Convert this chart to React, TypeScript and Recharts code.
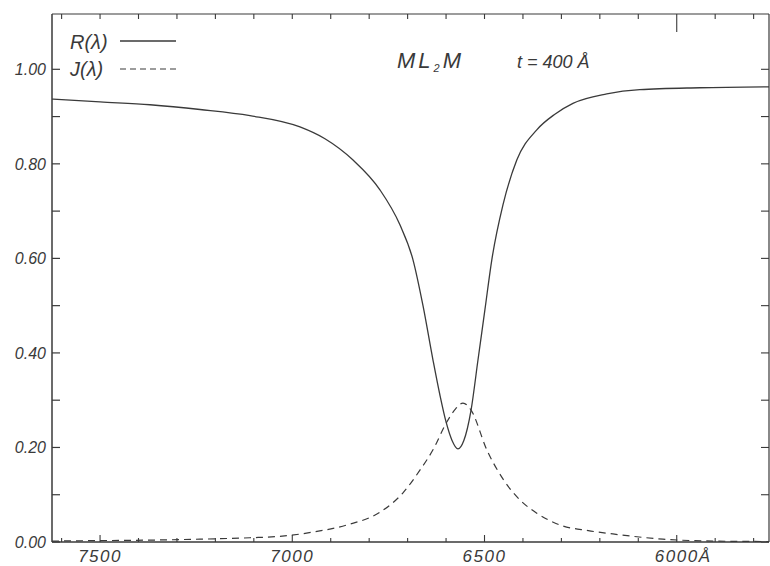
import { LineChart, Line, XAxis, YAxis } from "recharts";

// R(lambda), reflectance
const rLambda = [7625, 7500, 7370, 7240, 7110, 6980, 6915, 6842, 6772, 6720, 6686, 6660, 6634, 6616, 6600, 6585, 6569, 6554, 6535, 6517, 6499, 6481, 6452, 6416, 6364, 6317, 6270, 6182, 6096, 5940, 5760];
const rValue = [0.937, 0.931, 0.925, 0.915, 0.902, 0.878, 0.853, 0.808, 0.745, 0.671, 0.597, 0.5, 0.385, 0.311, 0.254, 0.216, 0.197, 0.214, 0.279, 0.385, 0.491, 0.597, 0.713, 0.808, 0.872, 0.905, 0.928, 0.948, 0.957, 0.961, 0.963];

// J(lambda), dashed curve
const jLambda = [7625, 7500, 7370, 7240, 7110, 7032, 6946, 6858, 6772, 6712, 6668, 6634, 6598, 6577, 6556, 6535, 6494, 6450, 6408, 6364, 6304, 6230, 6166, 6036, 5906, 5760];
const jValue = [0.002, 0.003, 0.004, 0.006, 0.009, 0.012, 0.021, 0.036, 0.063, 0.104, 0.152, 0.195, 0.254, 0.28, 0.294, 0.279, 0.195, 0.131, 0.089, 0.061, 0.036, 0.024, 0.017, 0.006, 0.002, 0.001];

const yTicks = [0, 0.1, 0.2, 0.3, 0.4, 0.5, 0.6, 0.7, 0.8, 0.9, 1.0];
const xTicks = [5800, 5900, 6000, 6100, 6200, 6300, 6400, 6500, 6600, 6700, 6800, 6900, 7000, 7100, 7200, 7300, 7400, 7500, 7600];
const xLabels = [7500, 7000, 6500, 6000];

const rData = rLambda.map((l, i) => ({ lambda: l, value: rValue[i] }));
const jData = jLambda.map((l, i) => ({ lambda: l, value: jValue[i] }));

const ink = "#3a3a3a";
const font = "'Liberation Sans', Arial, sans-serif";
const xDomain = [5760, 7625];
const yDomain = [0, 1.117];

const isMajorY = (v: number) => Math.round(v * 10) % 2 === 0;

const LeftTick = (props: any) => {
  const { x, y, payload } = props;
  const v = payload.value as number;
  return (
    <g>
      <line x1={x} x2={x + 8} y1={y} y2={y} stroke={ink} strokeWidth={1.2} />
      {isMajorY(v) && (
        <text x={x - 6} y={y} dy={6} textAnchor="end" fontFamily={font} fontStyle="italic" fontSize={16} fill={ink}>
          {v.toFixed(2)}
        </text>
      )}
    </g>
  );
};

const RightTick = (props: any) => {
  const { x, y } = props;
  return <line x1={x} x2={x - 8} y1={y} y2={y} stroke={ink} strokeWidth={1.1} />;
};

const BottomTick = (props: any) => {
  const { x, y, payload } = props;
  const v = payload.value as number;
  const major = v % 500 === 0;
  return (
    <g>
      <line x1={x} x2={x} y1={y} y2={y - (major ? 7 : 4)} stroke={ink} strokeWidth={1.1} />
      {xLabels.includes(v) && (
        <text x={x} y={y + 20} textAnchor="middle" fontFamily={font} fontStyle="italic" fontSize={17} letterSpacing={1.5} fill={ink}>
          {v}
        </text>
      )}
      {v === 6000 && (
        <text x={x + 22} y={y + 20} textAnchor="start" fontFamily={font} fontStyle="italic" fontSize={17} fill={ink}>
          Å
        </text>
      )}
    </g>
  );
};

const TopTick = (props: any) => {
  const { x, y, payload } = props;
  const v = payload.value as number;
  return <line x1={x} x2={x} y1={y} y2={y + (v === 6000 ? 18 : 5)} stroke={ink} strokeWidth={1.1} />;
};

export default function App() {
  return (
    <div style={{ position: "absolute", left: 0, top: 0, width: 770, height: 566, background: "#fff" }}>
      <LineChart width={770} height={566} margin={{ top: 13, right: 0, left: 0, bottom: 0 }}>
        <XAxis
          dataKey="lambda"
          type="number"
          domain={xDomain}
          allowDataOverflow
          reversed
          ticks={xTicks}
          tick={<BottomTick />}
          tickLine={false}
          tickSize={0}
          tickMargin={0}
          height={24}
          interval={0}
          axisLine={{ stroke: ink, strokeWidth: 1.5 }}
        />
        <XAxis
          xAxisId="top"
          orientation="top"
          dataKey="lambda"
          type="number"
          domain={xDomain}
          allowDataOverflow
          reversed
          ticks={xTicks}
          tick={<TopTick />}
          tickLine={false}
          tickSize={0}
          tickMargin={0}
          height={1}
          interval={0}
          axisLine={{ stroke: ink, strokeWidth: 1.2 }}
        />
        <YAxis
          type="number"
          domain={yDomain}
          allowDataOverflow
          ticks={yTicks}
          tick={<LeftTick />}
          tickLine={false}
          tickSize={0}
          tickMargin={0}
          width={52}
          interval={0}
          axisLine={{ stroke: ink, strokeWidth: 1.5 }}
        />
        <YAxis
          yAxisId="right"
          orientation="right"
          type="number"
          domain={yDomain}
          allowDataOverflow
          ticks={yTicks}
          tick={<RightTick />}
          tickLine={false}
          tickSize={0}
          tickMargin={0}
          width={1}
          interval={0}
          axisLine={{ stroke: ink, strokeWidth: 1.2 }}
        />
        {/* hidden copy so the frame axes (top / right) get a series bound to them */}
        <Line
          data={rData}
          dataKey="value"
          xAxisId="top"
          yAxisId="right"
          stroke="none"
          dot={false}
          activeDot={false}
          legendType="none"
          isAnimationActive={false}
        />
        <Line
          data={rData}
          dataKey="value"
          type="monotone"
          stroke={ink}
          strokeWidth={1.3}
          dot={false}
          isAnimationActive={false}
        />
        <Line
          data={jData}
          dataKey="value"
          type="monotone"
          stroke={ink}
          strokeWidth={1.2}
          strokeDasharray="7 5"
          dot={false}
          isAnimationActive={false}
        />
      </LineChart>
      <svg width={770} height={566} style={{ position: "absolute", left: 0, top: 0, pointerEvents: "none" }}>
        <g fontFamily={font} fontStyle="italic" fill={ink}>
          <text x={70} y={49} fontSize={20}>R(λ)</text>
          <line x1={120} x2={176} y1={41} y2={41} stroke={ink} strokeWidth={1.3} />
          <text x={70} y={76} fontSize={20}>J(λ)</text>
          <line x1={120} x2={176} y1={69} y2={69} stroke={ink} strokeWidth={1.2} strokeDasharray="6 4" />
          <text x={397} y={68} fontSize={22} letterSpacing={3}>
            ML<tspan fontSize={11} dy={4}>2</tspan><tspan dy={-4}>M</tspan>
          </text>
          <text x={517} y={68} fontSize={18}>t = 400 Å</text>
        </g>
      </svg>
    </div>
  );
}
